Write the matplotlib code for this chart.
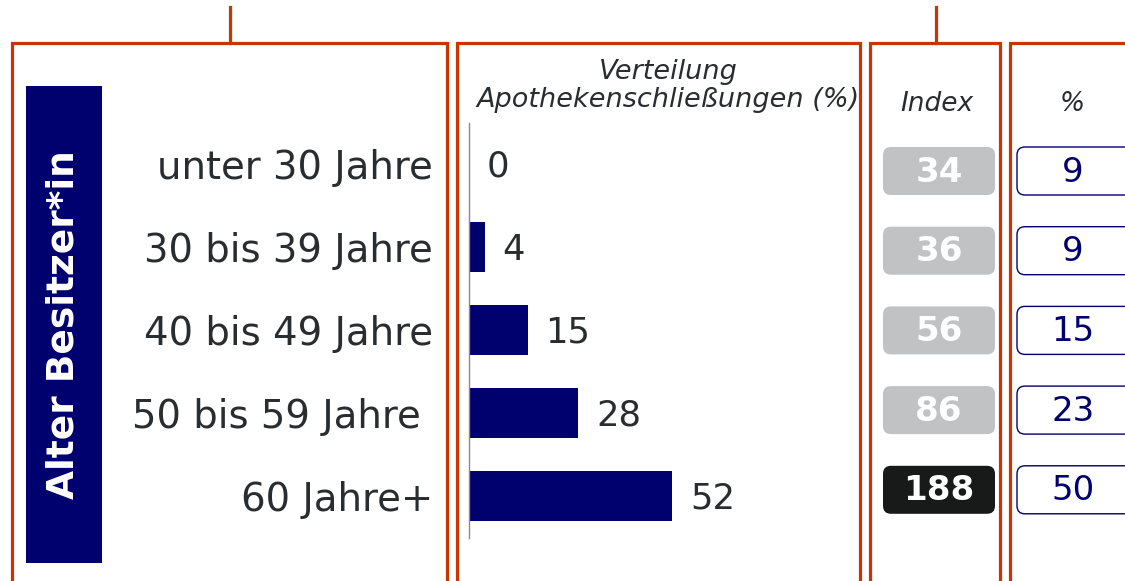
import matplotlib
matplotlib.use("Agg")
import matplotlib.pyplot as plt
from matplotlib.patches import FancyBboxPatch, Rectangle

categories = ["unter 30 Jahre", "30 bis 39 Jahre", "40 bis 49 Jahre", "50 bis 59 Jahre ", "60 Jahre+"]
verteilung = [0, 4, 15, 28, 52]
index_vals = [34, 36, 56, 86, 188]
anteil = [9, 9, 15, 23, 50]
side_label = "Alter Besitzer*in"
header_bar = "Verteilung\nApothekenschließungen (%)"
header_index = "Index"
header_pct = "%"

NAVY = "#00006E"
RED = "#CC3300"
TXT = "#2a2d30"
GREY_BOX = "#C0C2C4"
DARK_BOX = "#171A19"

plt.rcParams["font.family"] = ["DejaVu Sans"]

W, H = 1125, 581
fig = plt.figure(figsize=(W / 100, H / 100), dpi=100)
fig.patch.set_facecolor("white")

# overlay axes in pixel coordinates
ov = fig.add_axes([0, 0, 1, 1], zorder=0)
ov.set_xlim(0, W)
ov.set_ylim(H, 0)
ov.axis("off")

# bar axes
top_px, bot_px, left_px, right_px = 122.5, 537.5, 469, 858
ax = fig.add_axes([left_px / W, (H - bot_px) / H, (right_px - left_px) / W, (bot_px - top_px) / H], zorder=2)
ax.patch.set_alpha(0)
ypos = list(range(len(categories)))
ax.barh(ypos, verteilung, height=0.6, color=NAVY)
ax.set_xlim(0, (right_px - left_px) / 3.9)
ax.set_ylim(len(categories) - 0.5, -0.5)
for s in ["top", "right", "bottom"]:
    ax.spines[s].set_visible(False)
ax.spines["left"].set_color("#8a8a8a")
ax.spines["left"].set_linewidth(1.0)
ax.set_xticks([])
ax.set_yticks(ypos, categories)
ax.tick_params(axis="y", length=0, pad=26, labelsize=27.8, labelcolor=TXT)
for y, v in zip(ypos, verteilung):
    ax.annotate(str(v), (v, y), xytext=(13, -2), textcoords="offset points",
                ha="left", va="center", fontsize=25.5, color=TXT)

# frames
def frame(x0, x1, y0=42.5, y1=600):
    ov.plot([x0, x0, x1, x1], [y1, y0, y0, y1], color=RED, lw=2.3, solid_joinstyle="miter", clip_on=False)

frame(11.5, 446.5)
frame(456.5, 860)
frame(870, 1000)
frame(1010, 1140)
ov.plot([230, 230], [7, 42.5], color=RED, lw=2.3)
ov.plot([936, 936], [7, 42.5], color=RED, lw=2.3)

# side label box
ov.add_patch(Rectangle((26, 86), 76, 477, facecolor=NAVY, edgecolor="none"))
ov.text(64, 325, side_label, rotation=90, ha="center", va="center", fontsize=27,
        fontweight="bold", color="white")

# headers
ov.text(668, 86, header_bar, ha="center", va="center", fontsize=19.5, style="italic",
        color=TXT, linespacing=1.1)
ov.text(937, 104, header_index, ha="center", va="center", fontsize=19, style="italic", color=TXT)
ov.text(1072, 104, header_pct, ha="center", va="center", fontsize=19, style="italic", color=TXT)

# index and percentage boxes
row0, pitch, bh = 171, 79.7, 48
for i, (iv, pv) in enumerate(zip(index_vals, anteil)):
    yc = row0 + i * pitch
    fc = DARK_BOX if iv > 100 else GREY_BOX
    ov.add_patch(FancyBboxPatch((883, yc - bh / 2), 112, bh,
                                boxstyle="round,pad=0,rounding_size=8",
                                facecolor=fc, edgecolor="none"))
    ov.text(939, yc + 1, str(iv), ha="center", va="center", fontsize=24.5,
            fontweight="bold", color="white")
    ov.add_patch(FancyBboxPatch((1017, yc - bh / 2), 130, bh,
                                boxstyle="round,pad=0,rounding_size=8",
                                facecolor="white", edgecolor=NAVY, lw=1.0, clip_on=False))
    ov.text(1073, yc + 1, str(pv), ha="center", va="center", fontsize=24.5, color=NAVY)

fig.savefig("out.png", dpi=100, facecolor="white")
